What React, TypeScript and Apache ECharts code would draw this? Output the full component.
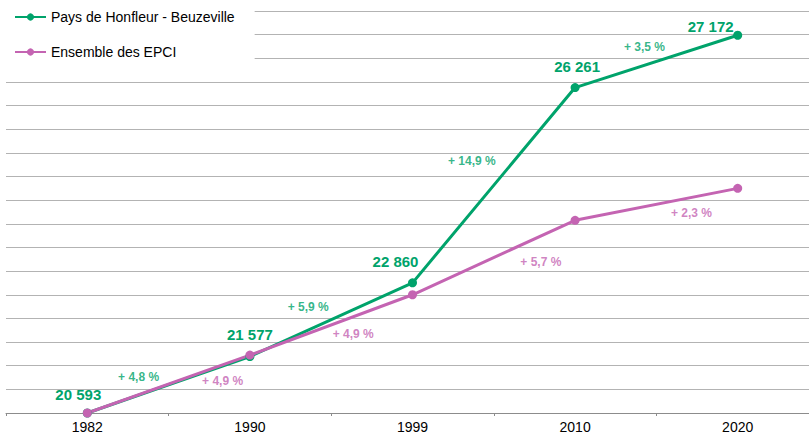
import React, { useEffect, useRef } from "react";
import * as echarts from "echarts";

const YEARS = ["1982", "1990", "1999", "2010", "2020"];
const HONFLEUR_NAME = "Pays de Honfleur - Beuzeville";
const EPCI_NAME = "Ensemble des EPCI";
const HONFLEUR_POP = [20593, 21577, 22860, 26261, 27172];
const HONFLEUR_GROWTH = ["+ 4,8 %", "+ 5,9 %", "+ 14,9 %", "+ 3,5 %"];
// Ensemble des EPCI, index base 100 in 1982
const EPCI_INDEX = [100, 104.9, 110.0, 116.3, 119.0];
const EPCI_GROWTH = ["+ 4,9 %", "+ 4,9 %", "+ 5,7 %", "+ 2,3 %"];

// label offsets (pixels), style only
const POP_LABEL_OFFSETS = [[-9, -19], [0, -22], [-17, -21], [2, -21], [-27, -9]];
const HON_GROWTH_OFFSETS = [[-30, -8], [-23, -13], [-22, -24], [-12, -14]];
const EPCI_GROWTH_OFFSETS = [[54, -3], [22, 9], [47, 4], [35, 9]];

const GREEN = "#00A36B";
const PINK = "#C464B2";
const FONT = "'Liberation Sans', Arial, sans-serif";

const fmt = (n: number) => String(n).replace(/\B(?=(\d{3})+(?!\d))/g, " ");

export default function App() {
  const ref = useRef<HTMLDivElement>(null);
  useEffect(() => {
    if (!ref.current) return;
    document.body.style.overflow = "hidden";
    const chart = echarts.init(ref.current, undefined, { renderer: "svg" });
    const honIndex = HONFLEUR_POP.map((v) => (v / HONFLEUR_POP[0]) * 100);

    const growthData = (vals: number[], texts: string[], offs: number[][]) =>
      texts.map((t, i) => ({
        value: [i + 1, (vals[i] + vals[i + 1]) / 2],
        text: t,
        label: { offset: offs[i] },
      }));

    chart.setOption({
      animation: false,
      legend: {
        data: [HONFLEUR_NAME, EPCI_NAME],
        orient: "vertical",
        left: 0,
        top: 0,
        padding: [10, 20, 11, 14],
        backgroundColor: "#ffffff",
        itemWidth: 31,
        itemHeight: 9,
        itemGap: 21,
        z: 10,
        textStyle: { fontFamily: FONT, fontSize: 14, color: "#000", lineHeight: 14 },
      },
      grid: { left: 6, width: 813, top: 11, bottom: 25, containLabel: false },
      xAxis: [
        {
          type: "category",
          data: YEARS,
          boundaryGap: true,
          axisLine: { lineStyle: { color: "#8c8c8c", width: 1 } },
          axisTick: { show: true, interval: 0, length: 3, lineStyle: { color: "#8c8c8c" } },
          axisLabel: { fontFamily: FONT, fontSize: 14, color: "#000", margin: 7 },
          splitLine: { show: false },
        },
        { type: "value", min: 0, max: 5, show: false },
      ],
      yAxis: {
        type: "value",
        min: 100,
        max: 134,
        interval: 2,
        axisLabel: { show: false },
        axisLine: { show: false },
        axisTick: { show: false },
        splitLine: { lineStyle: { color: "#b3b3b3", width: 1 } },
      },
      series: [
        {
          name: HONFLEUR_NAME,
          type: "line",
          data: honIndex.map((v, i) => ({ value: v, label: { offset: POP_LABEL_OFFSETS[i] } })),
          color: GREEN,
          symbol: "circle",
          symbolSize: 9,
          lineStyle: { width: 3, color: GREEN },
          itemStyle: { color: GREEN },
          label: {
            show: true,
            position: "inside",
            fontFamily: FONT,
            fontSize: 15,
            fontWeight: "bold",
            color: GREEN,
            formatter: (p: any) => fmt(HONFLEUR_POP[p.dataIndex]),
          },
        },
        {
          name: EPCI_NAME,
          type: "line",
          data: EPCI_INDEX,
          color: PINK,
          symbol: "circle",
          symbolSize: 9,
          lineStyle: { width: 3, color: PINK },
          itemStyle: { color: PINK },
        },
        {
          name: "growthHon",
          type: "scatter",
          xAxisIndex: 1,
          data: growthData(honIndex, HONFLEUR_GROWTH, HON_GROWTH_OFFSETS),
          symbolSize: 1,
          itemStyle: { color: "rgba(0,0,0,0)" },
          label: {
            show: true,
            position: "inside",
            fontFamily: FONT,
            fontSize: 12,
            fontWeight: "bold",
            color: GREEN,
            formatter: (p: any) => p.data.text,
          },
          z: 5,
        },
        {
          name: "growthEpci",
          type: "scatter",
          xAxisIndex: 1,
          data: growthData(EPCI_INDEX, EPCI_GROWTH, EPCI_GROWTH_OFFSETS),
          symbolSize: 1,
          itemStyle: { color: "rgba(0,0,0,0)" },
          label: {
            show: true,
            position: "inside",
            fontFamily: FONT,
            fontSize: 12,
            fontWeight: "bold",
            color: PINK,
            formatter: (p: any) => p.data.text,
          },
          z: 5,
        },
      ],
    });
    return () => {
      chart.dispose();
      document.body.style.overflow = "";
    };
  }, []);
  return (
    <div
      ref={ref}
      style={{ position: "fixed", left: 0, top: 0, width: 822, height: 438, background: "#fff" }}
    />
  );
}
